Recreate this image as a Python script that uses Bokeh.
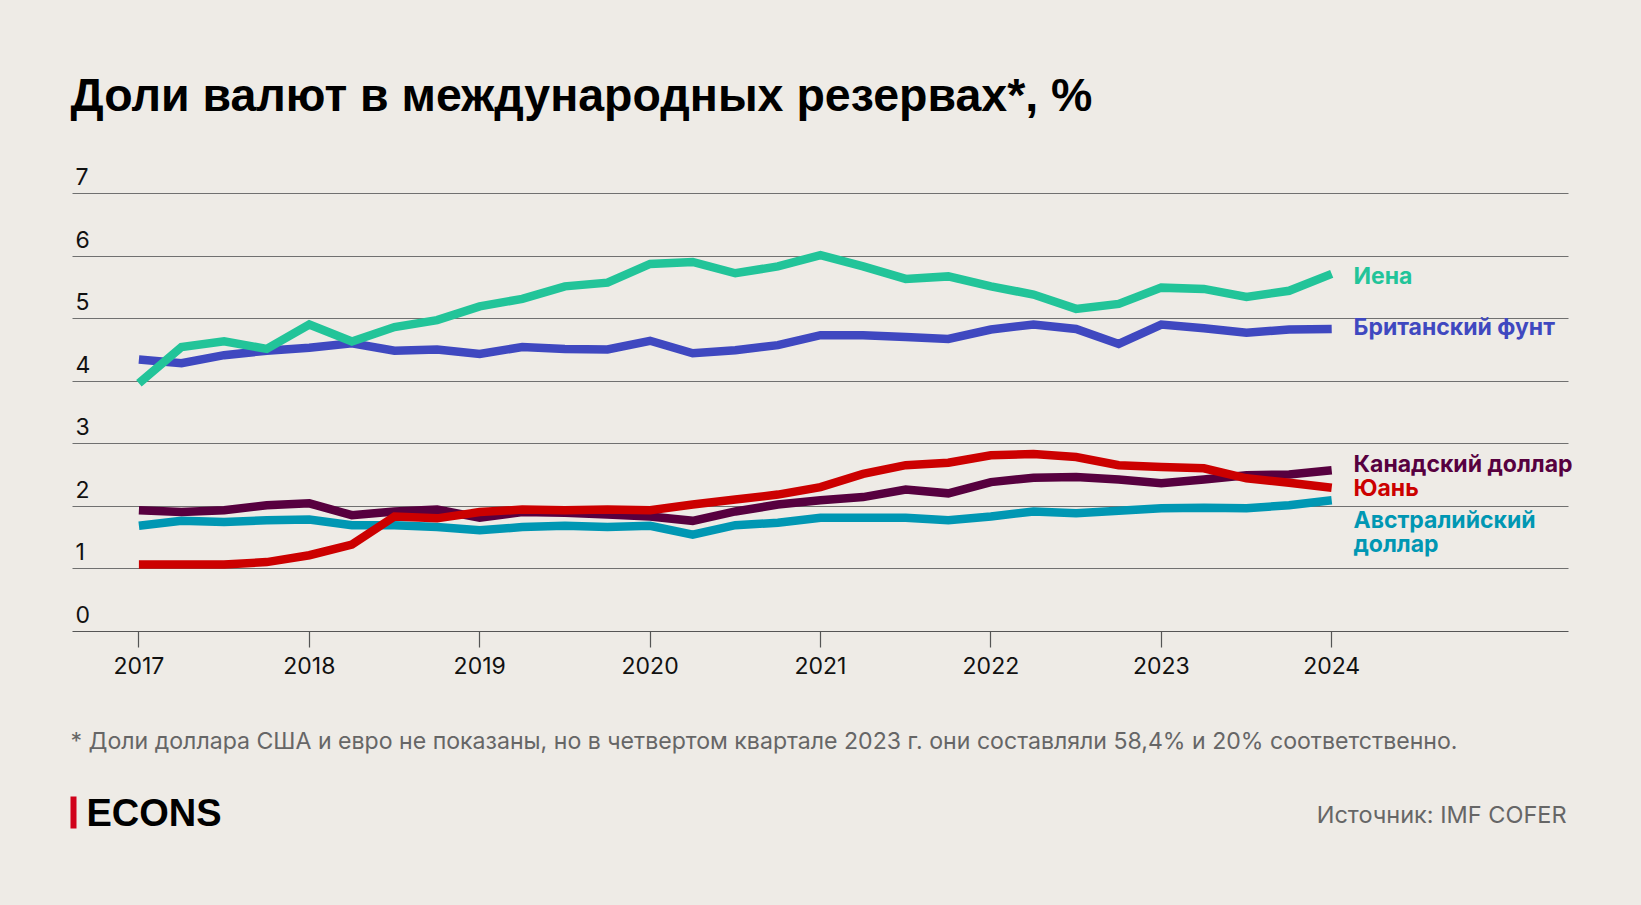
from bokeh.plotting import figure
from bokeh.layouts import column
from bokeh.models import Range1d, FixedTicker, ColumnDataSource, Grid
from bokeh.embed import file_html
from bokeh.resources import INLINE
from bokeh.core.properties import value

# ---------------- data ----------------
quarters = [2017.0, 2017.25, 2017.5, 2017.75,
            2018.0, 2018.25, 2018.5, 2018.75,
            2019.0, 2019.25, 2019.5, 2019.75,
            2020.0, 2020.25, 2020.5, 2020.75,
            2021.0, 2021.25, 2021.5, 2021.75,
            2022.0, 2022.25, 2022.5, 2022.75,
            2023.0, 2023.25, 2023.5, 2023.75,
            2024.0]

yen = [3.97, 4.55, 4.64, 4.52, 4.91, 4.64, 4.87, 4.98, 5.20, 5.32, 5.52, 5.58,
       5.88, 5.91, 5.73, 5.84, 6.02, 5.84, 5.64, 5.68, 5.52, 5.39, 5.16, 5.24,
       5.50, 5.48, 5.35, 5.45, 5.72]
gbp = [4.35, 4.29, 4.42, 4.49, 4.54, 4.61, 4.49, 4.51, 4.44, 4.55, 4.52, 4.51,
       4.65, 4.45, 4.50, 4.58, 4.74, 4.74, 4.71, 4.68, 4.83, 4.91, 4.84, 4.60,
       4.91, 4.85, 4.78, 4.83, 4.84]
cad = [1.94, 1.91, 1.94, 2.02, 2.05, 1.86, 1.92, 1.95, 1.82, 1.91, 1.90, 1.87,
       1.84, 1.77, 1.92, 2.03, 2.10, 2.15, 2.27, 2.21, 2.39, 2.46, 2.47, 2.43,
       2.37, 2.43, 2.50, 2.51, 2.58]
cny = [1.07, 1.07, 1.07, 1.11, 1.22, 1.39, 1.84, 1.81, 1.91, 1.95, 1.94, 1.95,
       1.94, 2.03, 2.11, 2.19, 2.31, 2.52, 2.66, 2.70, 2.82, 2.84, 2.79, 2.66,
       2.63, 2.61, 2.45, 2.38, 2.30]
aud = [1.69, 1.77, 1.75, 1.78, 1.79, 1.70, 1.70, 1.67, 1.62, 1.67, 1.69, 1.67,
       1.69, 1.55, 1.70, 1.74, 1.82, 1.82, 1.82, 1.78, 1.84, 1.92, 1.89, 1.93,
       1.97, 1.98, 1.97, 2.02, 2.10]

year_ticks = [2017, 2018, 2019, 2020, 2021, 2022, 2023, 2024]
y_ticks = [0, 1, 2, 3, 4, 5, 6, 7]
y_tick_labels = ["0", "1", "2", "3", "4", "5", "6", "7"]

title_text = "Доли валют в международных резервах*, %"
note_text = ("* Доли доллара США и евро не показаны, но в четвертом квартале 2023 г. "
             "они составляли 58,4% и 20% соответственно.")
source_text = "Источник: IMF COFER"
logo_text = "ECONS"

# ---------------- style / layout ----------------
BG = "#EEEBE6"
C_YEN = "#22C499"
C_GBP = "#3F48C0"
C_CAD = "#57003F"
C_CNY = "#CC0000"
C_AUD = "#0097B3"
GRID = "#707070"
FONT = "Inter"

W = 1640
H_MAIN = 691
H_BOT = 209
AX_Y = 631.3        # page y of the zero line
PX_Y = 62.55        # px per percentage point
PX_X = 170.4        # px per year
X_2017 = 138.4      # page x of 2017
GRID_L, GRID_R = 72, 1568

X0 = 2017 - X_2017 / PX_X
X1 = X0 + W / PX_X
Y1 = AX_Y / PX_Y


def X(px):
    return X0 + px / PX_X


def Y(py):
    return (AX_Y - py) / PX_Y


p = figure(width=W, height=H_MAIN, x_range=Range1d(X0, X1), y_range=Range1d(0, Y1),
           output_backend="svg", toolbar_location=None, y_axis_location=None,
           title=None,
           min_border_left=0, min_border_right=0, min_border_top=0,
           min_border_bottom=H_MAIN - round(AX_Y), background_fill_color=BG,
           border_fill_color=BG, outline_line_color=None)

p.xgrid.visible = False
if "cross_bounds" in Grid.properties():
    p.ygrid.ticker = FixedTicker(ticks=y_ticks[1:])
    p.ygrid.cross_bounds = (X(GRID_L), X(GRID_R))
    p.ygrid.grid_line_color = GRID
    p.ygrid.grid_line_width = 1
else:
    p.ygrid.visible = False
    gl = y_ticks[1:]
    p.segment(x0=[X(GRID_L)] * len(gl), x1=[X(GRID_R)] * len(gl), y0=gl, y1=gl,
              line_color=GRID, line_width=1)

ax = p.xaxis[0]
ax.ticker = FixedTicker(ticks=year_ticks)
ax.bounds = (X(GRID_L), X(GRID_R))
ax.axis_line_color = "#555555"
ax.axis_line_width = 1.2
ax.major_tick_line_color = "#555555"
ax.major_tick_line_width = 1.2
ax.major_tick_out = 16
ax.major_tick_in = 0
ax.minor_tick_line_color = None
ax.major_label_text_font = FONT
ax.major_label_text_font_size = "23px"
ax.major_label_text_color = "#111111"
ax.major_label_standoff = 9

# y tick labels sitting above the grid lines
lab_pad = 17 / PX_Y
ysrc = ColumnDataSource(dict(x=[X(75)] * len(y_ticks), y=[v + lab_pad for v in y_ticks],
                             t=y_tick_labels))
p.text(x="x", y="y", text="t", source=ysrc, text_font=value(FONT),
       text_font_size="23px", text_color="#111111", text_baseline="middle",
       text_align="left")

# lines
src = ColumnDataSource(dict(x=quarters, yen=yen, gbp=gbp, cad=cad, cny=cny, aud=aud))
for col, color in [("gbp", C_GBP), ("yen", C_YEN), ("aud", C_AUD), ("cad", C_CAD), ("cny", C_CNY)]:
    p.line("x", col, source=src, line_color=color, line_width=8.5, line_join="miter",
           line_cap="butt")

# series labels (page px of cap centre)
lab_specs = [
    ("Иена", C_YEN, 276),
    ("Британский фунт", C_GBP, 327),
    ("Канадский доллар", C_CAD, 464),
    ("Юань", C_CNY, 488),
    ("Австралийский", C_AUD, 519.5),
    ("доллар", C_AUD, 544),
]
for txt, color, cy in lab_specs:
    p.text(x=[X(1353)], y=[Y(cy)], text=[txt], text_color=color,
           text_font=value(FONT), text_font_style="bold", text_font_size="23px",
           text_baseline="middle", text_align="left")

# title
p.text(x=[X(70)], y=[Y(95)], text=[title_text], text_color="#000000",
       text_font=value("Liberation Sans"), text_font_style="bold",
       text_font_size="46.5px", text_baseline="middle", text_align="left")

# ---------------- bottom strip ----------------
q = figure(width=W, height=H_BOT, x_range=Range1d(0, W), y_range=Range1d(H_BOT, 0),
           output_backend="svg", toolbar_location=None, x_axis_location=None,
           y_axis_location=None, title=None, min_border=0,
           min_border_left=0, min_border_right=0, min_border_top=0, min_border_bottom=0,
           background_fill_color=BG, border_fill_color=BG, outline_line_color=None)
q.xgrid.visible = False
q.ygrid.visible = False


def B(py):
    return py - H_MAIN


q.text(x=[70], y=[B(740)], text=[note_text], text_color="#666666",
       text_font=value(FONT), text_font_size="23.1px", text_baseline="middle",
       text_align="left")
q.quad(left=[70], right=[76], top=[B(796)], bottom=[B(828)], fill_color="#D0021B",
       line_color=None)
q.text(x=[86], y=[B(812)], text=[logo_text], text_color="#000000",
       text_font=value("Liberation Sans"), text_font_style="bold", text_font_size="38px",
       text_baseline="middle", text_align="left")
q.text(x=[1566], y=[B(814.4)], text=[source_text], text_color="#666666",
       text_font=value(FONT), text_font_size="23.5px", text_baseline="middle",
       text_align="right")

layout = column(p, q, spacing=0)

html = file_html(layout, INLINE)
html = html.replace("<head>", "<head><style>body{background:#EEEBE6;}</style>", 1)
open("out.html", "w").write(html)
